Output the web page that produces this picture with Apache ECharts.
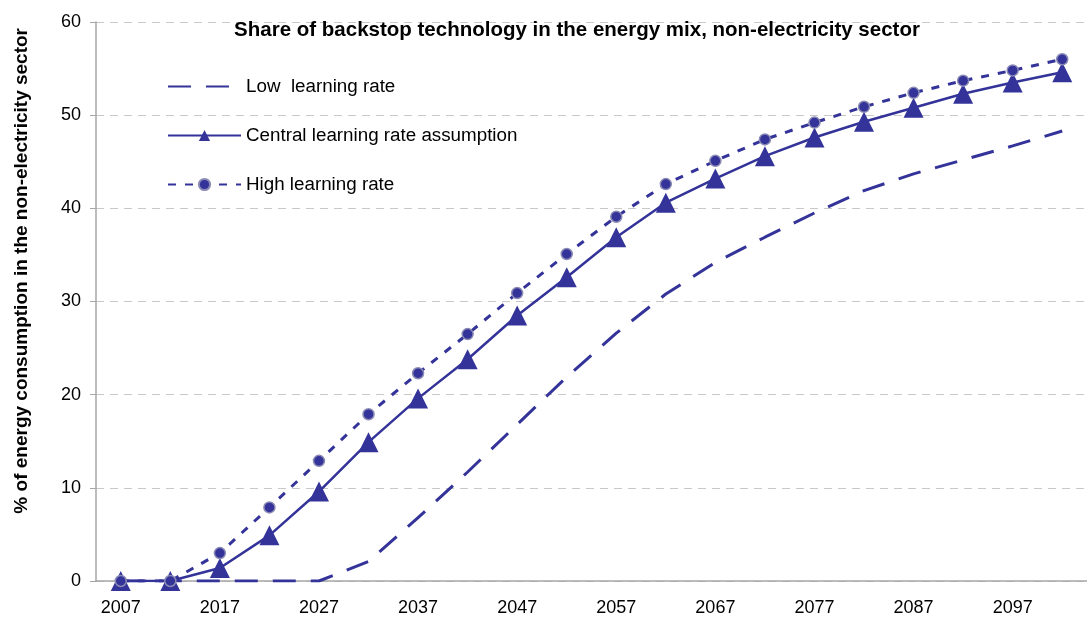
<!DOCTYPE html>
<html>
<head>
<meta charset="utf-8">
<script src="https://cdn.jsdelivr.net/npm/echarts@6/dist/echarts.min.js"></script>
<style>
html,body{margin:0;padding:0;background:#fff;}
#chart{width:1087px;height:618px;}
</style>
</head>
<body>
<div id="chart"></div>
<script>
// years, 5-year steps
var years = ['2007','2012','2017','2022','2027','2032','2037','2042','2047','2052',
             '2057','2062','2067','2072','2077','2082','2087','2092','2097','2102'];
var lowRate = [0, 0, 0, 0, 0, 2.1, 6.8, 11.7, 16.8, 21.9, 26.6, 30.8, 34.2, 36.9, 39.5, 41.9, 43.7, 45.2, 46.7, 48.3];
var centralRate = [0, 0, 1.4, 4.9, 9.6, 14.9, 19.6, 23.8, 28.5, 32.6, 36.9, 40.6, 43.2, 45.6, 47.6, 49.3, 50.8, 52.3, 53.5, 54.6];
var highRate = [0, 0, 3.0, 7.9, 12.9, 17.9, 22.3, 26.5, 30.9, 35.1, 39.1, 42.6, 45.1, 47.4, 49.2, 50.9, 52.4, 53.7, 54.8, 56.0];
var yTicks = [0, 10, 20, 30, 40, 50, 60];

var navy = '#333399';
var font = 'Liberation Sans, Arial, sans-serif';

var chart = echarts.init(document.getElementById('chart'));
chart.setOption({
    animation: false,
    backgroundColor: '#fff',
    title: {
        text: 'Share of backstop technology in the energy mix, non-electricity sector',
        left: 572,
        textAlign: 'center',
        top: 15,
        textStyle: {fontFamily: font, fontSize: 20.5, fontWeight: 'bold', color: '#000'}
    },
    // y axis title drawn as text so it can sit where the original has it
    graphic: [{
        type: 'text',
        left: 12,
        top: 28,
        rotation: Math.PI / 2,
        style: {
            text: '% of energy consumption in the non-electricity sector',
            fontFamily: font, fontSize: 19, fontWeight: 'bold', fill: '#000'
        }
    }],
    legend: {
        orient: 'vertical',
        left: 167,
        top: 77,
        padding: 0,
        itemWidth: 73,
        itemHeight: 14,
        itemGap: 30,
        textStyle: {fontFamily: font, fontSize: 18.8, color: '#000'},
        data: [
            {name: 'Low  learning rate', itemStyle: {opacity: 0}},
            'Central learning rate assumption',
            'High learning rate'
        ]
    },
    grid: {left: 96, right: -7, top: 22, bottom: 37},
    xAxis: {
        type: 'category',
        data: years,
        boundaryGap: true,
        axisLine: {lineStyle: {color: '#a6a6a6', width: 1.5}},
        axisTick: {interval: 0, length: 5, lineStyle: {color: '#a6a6a6'}},
        axisLabel: {interval: 1, fontFamily: font, fontSize: 18, color: '#000', margin: 18},
        splitLine: {show: false}
    },
    yAxis: {
        type: 'value',
        min: yTicks[0],
        max: yTicks[yTicks.length - 1],
        interval: 10,
        axisLine: {show: true, lineStyle: {color: '#a6a6a6', width: 1.5}},
        axisTick: {show: true, length: 6, lineStyle: {color: '#a6a6a6'}},
        axisLabel: {fontFamily: font, fontSize: 18, color: '#000', margin: 15},
        splitLine: {lineStyle: {color: '#c8c8c8', type: [8, 6], width: 1}}
    },
    series: [
        {
            name: 'Low  learning rate',
            type: 'line',
            data: lowRate,
            symbol: 'none',
            lineStyle: {color: navy, width: 3, type: [23, 15]},
            itemStyle: {color: navy}
        },
        {
            name: 'Central learning rate assumption',
            type: 'line',
            data: centralRate,
            symbol: 'triangle',
            symbolSize: 20,
            lineStyle: {color: navy, width: 2.5},
            itemStyle: {color: navy},
            z: 3
        },
        {
            name: 'High learning rate',
            type: 'line',
            data: highRate,
            symbol: 'circle',
            symbolSize: 11,
            lineStyle: {color: navy, width: 3, type: [8, 9]},
            itemStyle: {color: navy, borderColor: '#8a8ab4', borderWidth: 1.5},
            z: 4
        }
    ]
});
</script>
</body>
</html>
